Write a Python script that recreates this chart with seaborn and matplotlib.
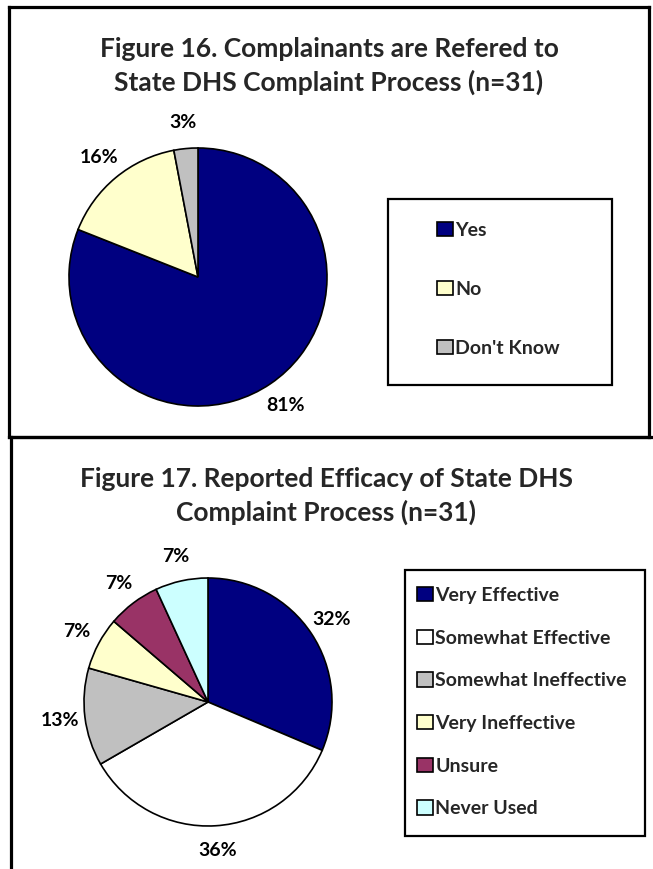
import matplotlib.pyplot as plt
import seaborn as sns
from matplotlib.patches import Rectangle

# data: percentages as printed on the charts
ref_labels = ["Yes", "No", "Don't Know"]
ref_pct = [81, 16, 3]
ref_colors = ["#000080", "#FFFFCC", "#C0C0C0"]

eff_labels = ["Very Effective", "Somewhat Effective", "Somewhat Ineffective",
              "Very Ineffective", "Unsure", "Never Used"]
eff_pct = [32, 36, 13, 7, 7, 7]
eff_colors = ["#000080", "#FFFFFF", "#C0C0C0", "#FFFFCC", "#993366", "#CCFFFF"]

title16 = "Figure 16. Complainants are Refered to\nState DHS Complaint Process (n=31)"
title17 = "Figure 17. Reported Efficacy of State DHS\nComplaint Process (n=31)"

sns.set_theme(style="white")
plt.rcParams['font.family'] = ['Lato', 'DejaVu Sans']

W, H = 653, 869
fig = plt.figure(figsize=(W / 100, H / 100), dpi=100)


def fbox(x0, y0, x1, y1):
    # pixel box (top-left origin) -> figure coords
    return [x0 / W, 1 - y1 / H, (x1 - x0) / W, (y1 - y0) / H]


def panel(x0, y0, x1, y1):
    ax = fig.add_axes(fbox(x0, y0, x1, y1))
    ax.set_xticks([])
    ax.set_yticks([])
    ax.patch.set_alpha(0)
    for s in ax.spines.values():
        s.set_color("black")
        s.set_linewidth(2.3)
    return ax


def draw_pie(cx, cy, r, vals, colors):
    k = 1.6
    total = sum(vals)
    ax = fig.add_axes(fbox(cx - r * k, cy - r * k, cx + r * k, cy + r * k))
    wedges, _, pcts = ax.pie(vals, colors=colors, startangle=90, counterclock=False,
                             autopct=lambda p: f"{p * total / 100:.0f}%", pctdistance=1.2,
                             wedgeprops=dict(edgecolor="black", linewidth=1.2),
                             textprops=dict(fontsize=14, fontweight="bold", color="black"))
    ax.set_xlim(-k, k)
    ax.set_ylim(-k, k)
    ax.axis("off")
    return ax, wedges


def legend_box(x0, y0, x1, y1, wedges, labels, hx, ty, spacing):
    fig.add_artist(Rectangle((x0 / W, 1 - y1 / H), (x1 - x0) / W, (y1 - y0) / H,
                             transform=fig.transFigure, facecolor="none",
                             edgecolor="black", linewidth=1.6))
    fig.legend(wedges, labels, loc="upper left", bbox_to_anchor=(hx / W, 1 - ty / H),
               frameon=False, borderpad=0, borderaxespad=0,
               handlelength=0.8, handleheight=0.75, handletextpad=0.15,
               labelspacing=spacing, prop=dict(size=14, weight="bold"))


# Figure 16 panel
p1 = panel(9, 7, 649, 437)
fig.text(329 / W, 1 - 66 / H, title16, ha="center", va="center",
         fontsize=19, fontweight="bold", linespacing=1.45)
ax1, w1 = draw_pie(198, 277, 129, ref_pct, ref_colors)
legend_box(388, 199, 612, 385, w1, ref_labels, 437, 222, 2.15)

# Figure 17 panel
p2 = panel(11, 437, 665, 885)
fig.text(326 / W, 1 - 496 / H, title17, ha="center", va="center",
         fontsize=19, fontweight="bold", linespacing=1.45)
ax2, w2 = draw_pie(208, 702, 124, eff_pct, eff_colors)
legend_box(405, 570, 645, 836, w2, eff_labels, 417, 587, 1.32)

plt.savefig("out.png", dpi=100)
